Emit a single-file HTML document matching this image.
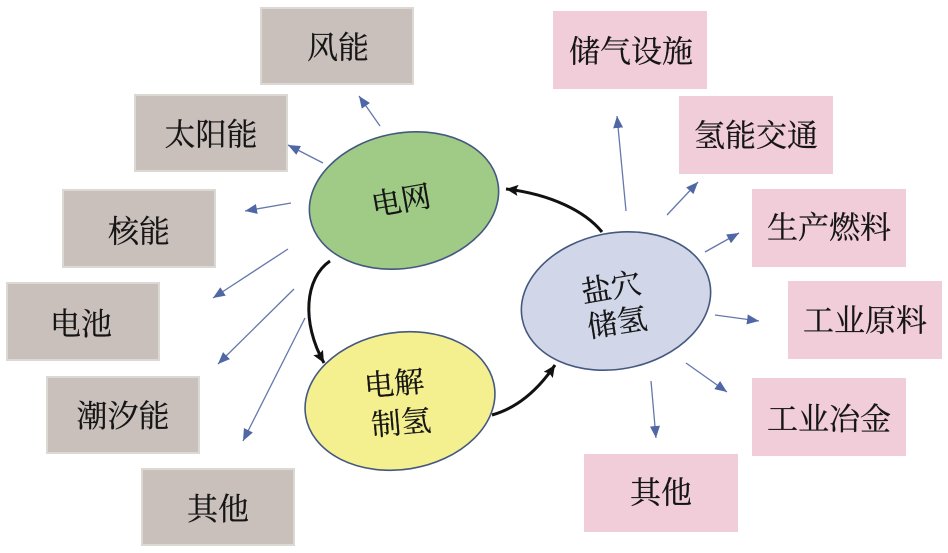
<!DOCTYPE html>
<html><head><meta charset="utf-8">
<style>
html,body{margin:0;padding:0;background:#fff}
svg{display:block}
text{font-family:"Noto Serif CJK SC","Noto Sans CJK SC",serif;fill:#151515;stroke:#151515;stroke-width:.25;text-anchor:middle}
</style></head>
<body>
<svg width="948" height="553" viewBox="0 0 948 553" xmlns="http://www.w3.org/2000/svg">
<defs>
<marker id="a" markerWidth="13" markerHeight="11" refX="12" refY="5.5" orient="auto" markerUnits="userSpaceOnUse"><path d="M0 0.5L12 5.5L0 10.5Z" fill="#4f67a5"/></marker>
<marker id="b" markerWidth="13" markerHeight="12" refX="12" refY="6" orient="auto" markerUnits="userSpaceOnUse"><path d="M0 0.5L12 6L0 11.5L2 6Z" fill="#111"/></marker>
</defs>
<g fill="#c9c0bc" stroke="#dcd8d3" stroke-width="2">
<rect x="261" y="8" width="152" height="76"/>
<rect x="135" y="95" width="152" height="76"/>
<rect x="63" y="190" width="152" height="77"/>
<rect x="7" y="283" width="152" height="77"/>
<rect x="47" y="377" width="152" height="76"/>
<rect x="142" y="469" width="152" height="76"/>
</g>
<g fill="#f0cdd8">
<rect x="553" y="11" width="154" height="78"/>
<rect x="679" y="96" width="154" height="78"/>
<rect x="752" y="189" width="154" height="78"/>
<rect x="788" y="281" width="154" height="78"/>
<rect x="752" y="378" width="154" height="78"/>
<rect x="584" y="454" width="154" height="78"/>
</g>
<g font-size="31">
<text x="338" y="58.5">风能</text>
<text x="211" y="145.5">太阳能</text>
<text x="139" y="242.5">核能</text>
<text x="81" y="335">电池</text>
<text x="123" y="427">潮汐能</text>
<text x="218" y="520">其他</text>
<text x="631" y="62.5">储气设施</text>
<text x="756" y="146.5">氢能交通</text>
<text x="829" y="238.5">生产燃料</text>
<text x="865" y="331.5">工业原料</text>
<text x="829" y="430">工业冶金</text>
<text x="661" y="503.5">其他</text>
</g>
<ellipse cx="404" cy="200.5" rx="95.5" ry="67.5" transform="rotate(-11 404 200.5)" fill="#9fcb87" stroke="#45587f" stroke-width="1.6"/>
<ellipse cx="400" cy="401" rx="95.5" ry="68.5" transform="rotate(-9 400 401)" fill="#f4ef8f" stroke="#45587f" stroke-width="1.6"/>
<ellipse cx="616" cy="301" rx="95.5" ry="68" transform="rotate(-11 616 301)" fill="#d1d7e8" stroke="#45587f" stroke-width="1.6"/>
<g font-size="30">
<text x="401" y="211" transform="rotate(-10 401 200)">电网</text>
<text x="394" y="394" transform="rotate(-5 394 383)">电解</text>
<text x="401" y="433" transform="rotate(-5 401 422)">制氢</text>
<text x="611" y="298" transform="rotate(-10 611 287)">盐穴</text>
<text x="617" y="333" transform="rotate(-9 617 322)">储氢</text>
</g>
<g stroke="#6478aa" stroke-width="1.3" fill="none" marker-end="url(#a)">
<line x1="380" y1="126" x2="359" y2="96"/>
<line x1="323" y1="163" x2="288" y2="145"/>
<line x1="291" y1="203" x2="245" y2="211"/>
<line x1="288" y1="249" x2="213" y2="298"/>
<line x1="294" y1="289" x2="218" y2="364"/>
<line x1="305" y1="318" x2="243" y2="441"/>
<line x1="626" y1="211" x2="617" y2="116"/>
<line x1="667" y1="215" x2="698" y2="182"/>
<line x1="705" y1="252" x2="739" y2="233"/>
<line x1="715" y1="315" x2="759" y2="321"/>
<line x1="686" y1="363" x2="727" y2="392"/>
<line x1="651" y1="381" x2="656" y2="438"/>
</g>
<g stroke="#111" stroke-width="3" fill="none" marker-end="url(#b)">
<path d="M602 232C585 211 550 194 506 189"/>
<path d="M330 261C305 278 301 322 324 363"/>
<path d="M492 415C517 408 538 390 555 365"/>
</g>
</svg>
</body></html>
